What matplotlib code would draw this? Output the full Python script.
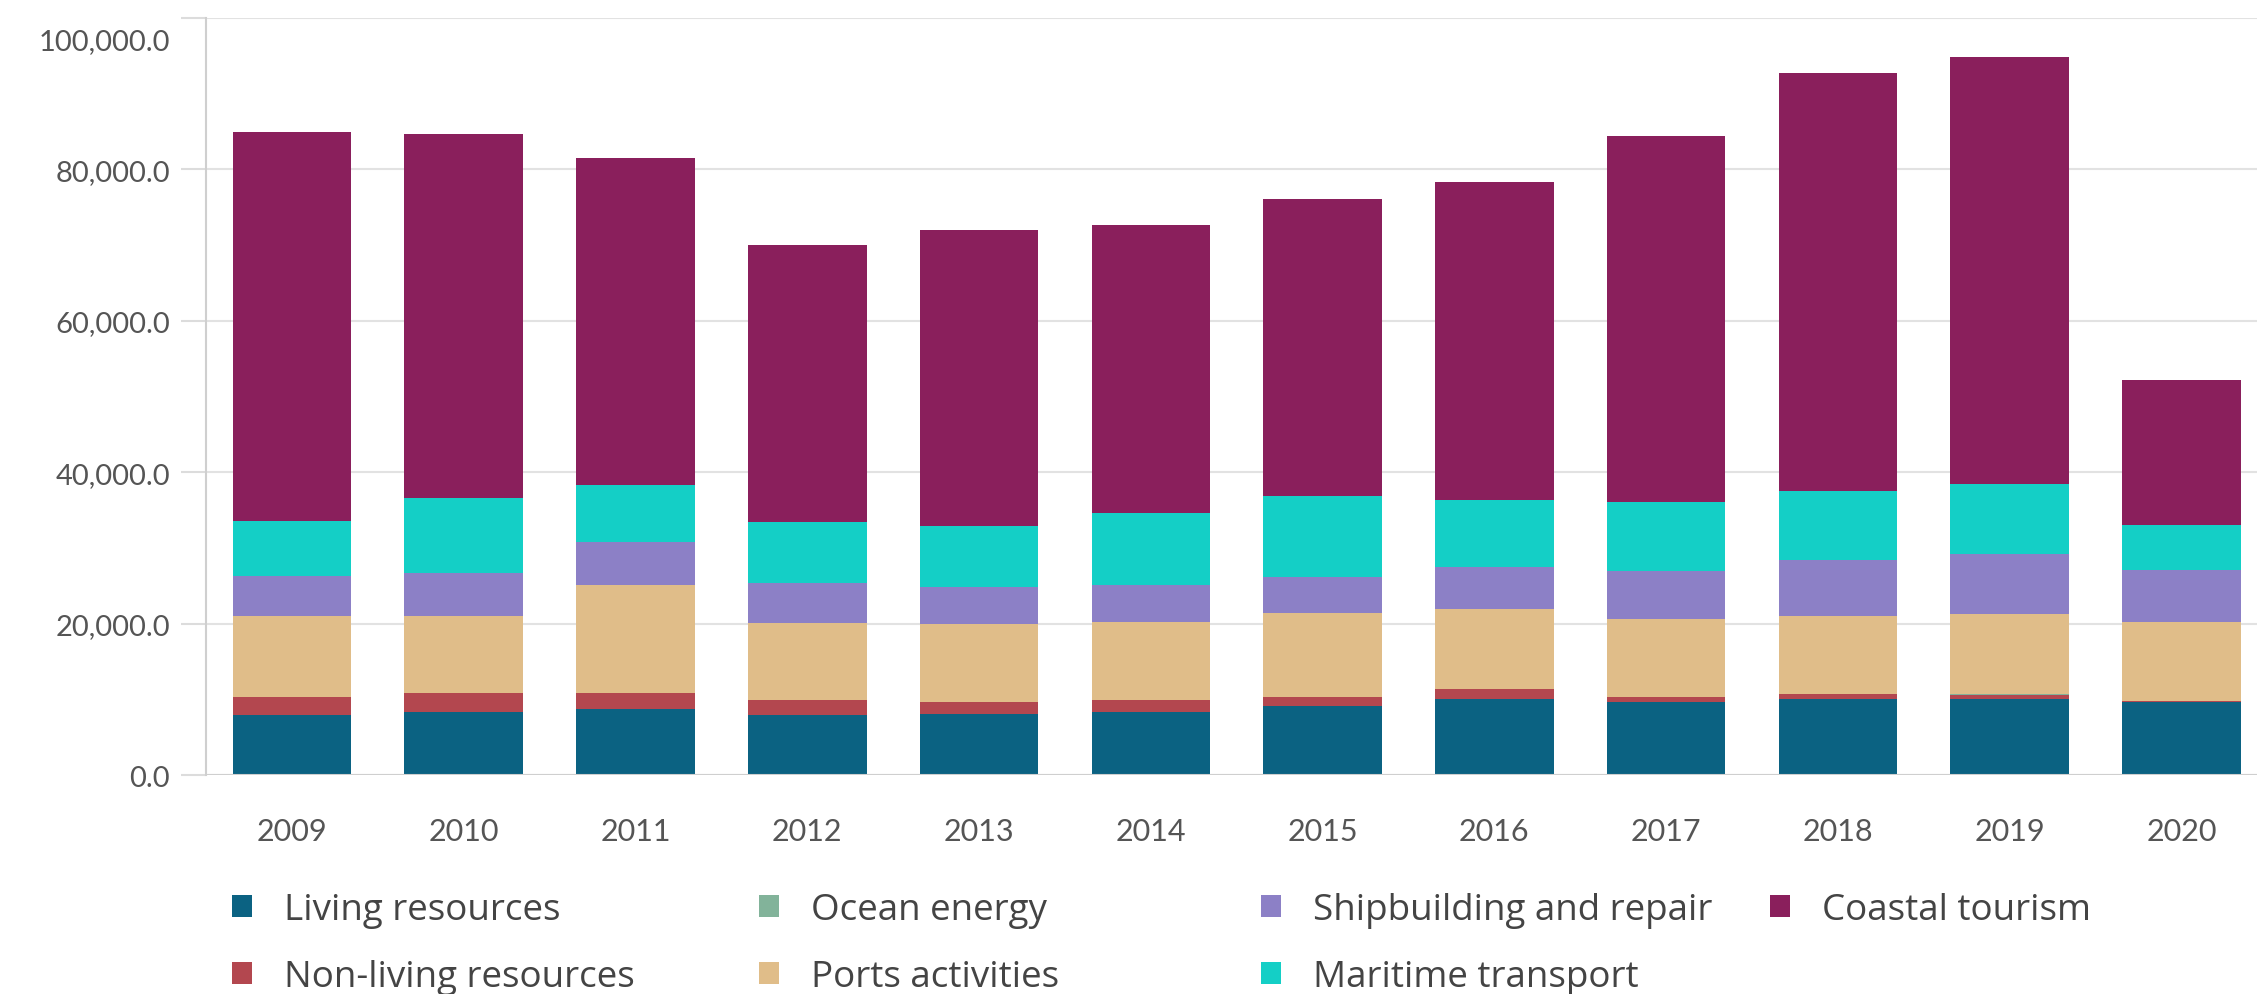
import matplotlib
matplotlib.use("Agg")
import matplotlib.pyplot as plt
from matplotlib.patches import Patch
from matplotlib.transforms import ScaledTranslation
import numpy as np

plt.rcParams['font.family'] = ['Lato', 'DejaVu Sans']

# Data
years = ['2009', '2010', '2011', '2012', '2013', '2014',
         '2015', '2016', '2017', '2018', '2019', '2020']
living = [7900, 8300, 8700, 7900, 8100, 8300, 9100, 10000, 9600, 10000, 10000, 9600]
non_living = [2400, 2500, 2100, 2000, 1500, 1600, 1200, 1300, 700, 700, 600, 150]
ocean_energy = [30, 30, 40, 40, 40, 50, 50, 60, 60, 60, 70, 70]
ports = [10700, 10200, 14300, 10200, 10300, 10200, 11000, 10600, 10300, 10300, 10600, 10400]
shipbuilding = [5200, 5600, 5600, 5200, 4900, 4900, 4800, 5500, 6300, 7300, 7900, 6800]
maritime = [7300, 9900, 7600, 8100, 8000, 9600, 10700, 8900, 9100, 9100, 9300, 6000]
coastal = [51400, 48200, 43200, 36600, 39100, 38000, 39200, 42000, 48300, 55300, 56400, 19100]

series = [
    ('Living resources', living, '#0b6282'),
    ('Non-living resources', non_living, '#b3474f'),
    ('Ocean energy', ocean_energy, '#82b39a'),
    ('Ports activities', ports, '#e0bd89'),
    ('Shipbuilding and repair', shipbuilding, '#8c80c6'),
    ('Maritime transport', maritime, '#14cfc6'),
    ('Coastal tourism', coastal, '#8a1f5c'),
]

fig = plt.figure(figsize=(22.57, 9.95), dpi=100, facecolor='white')
ax = fig.add_axes([0.0913, 0.2201, 0.9087, 0.7609])

x = np.arange(len(years))
bottom = np.zeros(len(years))
for name, vals, col in series:
    vals = np.array(vals, dtype=float)
    ax.bar(x, vals, width=0.69, bottom=bottom, color=col, linewidth=0, zorder=3)
    bottom += vals

ax.set_xlim(-0.5, 11.44)
ax.set_ylim(0, 100000)
ax.set_yticks(np.arange(0, 100001, 20000))
ax.set_yticklabels([f'{v:,.1f}' for v in np.arange(0, 100001, 20000)])
ax.set_xticks(x)
ax.set_xticklabels(years)

ax.grid(axis='y', color='#e2e2e2', linewidth=1.5, zorder=0)
for s in ['top', 'right', 'bottom']:
    ax.spines[s].set_visible(False)
ax.spines['left'].set_color('#cfcfcf')
ax.spines['left'].set_linewidth(1.5)
ax.axhline(0, color='#cfcfcf', linewidth=1.5, zorder=4)

ax.tick_params(axis='y', length=18, width=1.5, color='#dcdcdc', pad=8,
               labelsize=21, labelcolor='#555555')
ax.tick_params(axis='x', length=0, pad=30, labelsize=22, labelcolor='#555555')
# top label sits below its gridline in the reference
top_lab = ax.yaxis.get_major_ticks()[-1].label1
top_lab.set_verticalalignment('top')
top_lab.set_transform(top_lab.get_transform() + ScaledTranslation(0, -7 / 72, fig.dpi_scale_trans))

# Legend laid out in fixed-width columns
handles = [Patch(facecolor=col, edgecolor='none', label=name) for name, _, col in series]
col_groups = [[0, 1], [2, 3], [4, 5], [6]]
col_x = [232, 759, 1261, 1770]
for xi, grp in zip(col_x, col_groups):
    fig.legend([handles[i] for i in grp], [series[i][0] for i in grp],
               loc='upper left', bbox_to_anchor=(xi / 2257, 1 - 893 / 995),
               frameon=False, prop={'family': ['Open Sans', 'DejaVu Sans'], 'size': 26.5},
               handlelength=0.55, handleheight=0.55,
               handletextpad=0.85, labelspacing=0.85, borderpad=0, borderaxespad=0,
               labelcolor='#444444')

fig.savefig('out.png', dpi=100, facecolor='white')
